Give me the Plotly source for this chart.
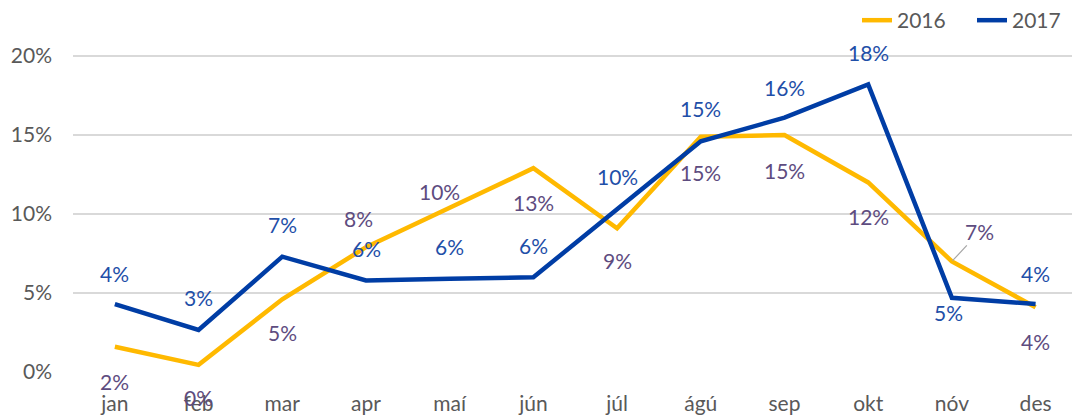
import plotly.graph_objects as go

months = ["jan", "feb", "mar", "apr", "maí", "jún", "júl", "ágú", "sep", "okt", "nóv", "des"]
y2016 = [1.6, 0.45, 4.6, 7.9, 10.4, 12.9, 9.1, 14.9, 15.0, 12.0, 7.0, 4.1]
y2017 = [4.3, 2.66, 7.3, 5.8, 5.9, 6.0, 10.3, 14.6, 16.1, 18.2, 4.7, 4.3]
yticks = [0, 5, 10, 15, 20]
yticktext = ["0%", "5%", "10%", "15%", "20%"]

C16 = "#FFB900"
C17 = "#003DA5"
L16 = "#5E4C7F"
L17 = "#1F4FA8"
FONT = "Lato"
FS = 21

# label pixel offsets (xshift, yshift)
off16 = [(0, -35), (0, -33), (0, -33), (-7, 29), (-10, 16), (0, -34), (0, -32), (0, -36), (0, -35), (0, -34), None, (0, -34)]
off17 = [(0, 31), (0, 32), (0, 32), (1, 32), (0, 32), (0, 32), (0, 33), (0, 33), (0, 30), (0, 32), (-3, -15), (0, 31)]

fig = go.Figure()
fig.add_trace(go.Scatter(x=months, y=y2016, mode="lines", name="2016",
                         line=dict(color=C16, width=4.5), hoverinfo="skip"))
fig.add_trace(go.Scatter(x=months, y=y2017, mode="lines", name="2017",
                         line=dict(color=C17, width=4.5), hoverinfo="skip"))

for i, m in enumerate(months):
    v = y2016[i]
    o = off16[i]
    if o is None:
        fig.add_annotation(x=m, y=v, text=f"{round(v)}%", showarrow=True, arrowhead=0,
                           arrowcolor="#A6A6A6", arrowwidth=1.2, ax=28, ay=-30, standoff=1,
                           font=dict(family=FONT, size=FS, color=L16))
    else:
        fig.add_annotation(x=m, y=v, text=f"{round(v)}%", showarrow=False,
                           xshift=o[0], yshift=o[1], font=dict(family=FONT, size=FS, color=L16))
    v = y2017[i]
    o = off17[i]
    fig.add_annotation(x=m, y=v, text=f"{round(v)}%", showarrow=False,
                       xshift=o[0], yshift=o[1], font=dict(family=FONT, size=FS, color=L17))

fig.update_layout(
    width=1072, height=416,
    margin=dict(l=73, r=0, t=36, b=44, autoexpand=False),
    plot_bgcolor="white", paper_bgcolor="white",
    font=dict(family=FONT, size=FS, color="#595959"),
    showlegend=True,
    legend=dict(orientation="h", x=1.015, xanchor="right", y=0.985, yanchor="bottom",
                font=dict(family=FONT, size=FS, color="#595959"),
                entrywidth=70, tracegroupgap=0, bgcolor="rgba(0,0,0,0)"),
    xaxis=dict(type="category", range=[-0.5, 11.435], showgrid=False, zeroline=False,
               showline=False, ticks="", ticklabelstandoff=17,
               tickfont=dict(family=FONT, size=FS, color="#595959")),
    yaxis=dict(range=[0, 21.27], tickvals=yticks, ticktext=yticktext, showgrid=True,
               gridcolor="#D9D9D9", gridwidth=1.5, zeroline=False, showline=False, ticks="",
               ticklabelstandoff=20,
               tickfont=dict(family=FONT, size=FS, color="#595959")),
)

fig.write_html("out.html", config={"displayModeBar": False},
               post_script="document.body.style.margin='0px';")
